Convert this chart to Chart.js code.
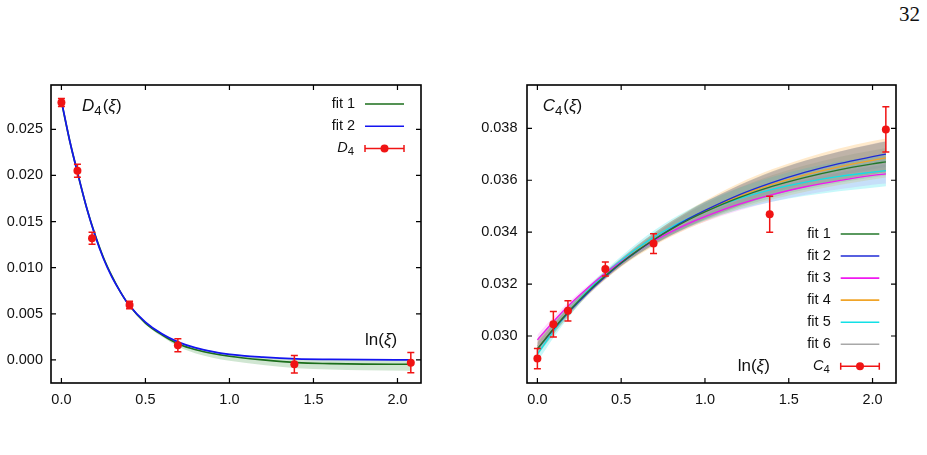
<!DOCTYPE html>
<html>
<head>
<meta charset="utf-8">
<script src="https://cdn.jsdelivr.net/npm/chart.js@4.4.1/dist/chart.umd.min.js"></script>
<style>
  body { margin: 0; background: #fff; width: 927px; height: 455px; overflow: hidden; position: relative; }
  canvas { position: absolute; top: 0; }
  #c1 { left: 0; }
  #c2 { left: 460px; }
  #page { position: absolute; left: 899px; top: 2px; font: 21px "Liberation Serif", serif; color: #111; }
</style>
</head>
<body>
<div id="page">32</div>
<canvas id="c1" width="460" height="420"></canvas>
<canvas id="c2" width="467" height="420"></canvas>
<script>
// measured points, x = ln(xi)
const lnXi = [0, 0.0953, 0.1823, 0.4055, 0.6931, 1.3863, 2.0794];
const d4Vals = [0.0279, 0.0205, 0.0132, 0.00595, 0.0016, -0.00047, -0.0003];
const d4Err = [0.00043, 0.0007, 0.00065, 0.0004, 0.0007, 0.00095, 0.0011];
const c4Vals = [0.02913, 0.03045, 0.03097, 0.03258, 0.03356, 0.03469, 0.03796];
const c4Err = [0.00039, 0.00049, 0.00039, 0.00027, 0.00038, 0.00069, 0.00087];

// fit curves, left panel (D4)
const fitXL = [0, 0.05, 0.1, 0.15, 0.2, 0.25, 0.3, 0.35, 0.4, 0.5, 0.6, 0.7, 0.8, 0.9, 1.0, 1.2, 1.4, 1.6, 1.8, 2.08];
const d4Fit1 = [0.0280, 0.0237, 0.0200, 0.0165, 0.0136, 0.0111, 0.0091, 0.0074, 0.0060, 0.0040, 0.0027, 0.0017, 0.0011, 0.0007, 0.0004, 0.0000, -0.0003, -0.0004, -0.00045, -0.00047];
const d4Fit1Up = [0.0001, 0.0001, 0.0001, 0.0001, 0.0001, 0.0001, 0.0001, 0.0001, 0.0001, 0.00015, 0.0002, 0.00022, 0.00025, 0.00028, 0.0003, 0.00035, 0.0004, 0.00042, 0.00044, 0.00045];
const d4Fit1Dn = [0.0001, 0.0001, 0.0001, 0.0001, 0.0001, 0.0001, 0.0001, 0.0001, 0.0001, 0.00015, 0.0002, 0.0003, 0.0004, 0.00045, 0.0005, 0.00055, 0.0006, 0.00065, 0.00068, 0.0007];
const d4Fit2 = [0.0281, 0.0237, 0.0200, 0.0165, 0.0135, 0.0110, 0.0090, 0.0074, 0.0060, 0.0041, 0.0028, 0.0019, 0.0013, 0.0009, 0.0006, 0.0003, 0.00012, 0.00006, 0.00003, 0.00001];

// fit curves, right panel (C4)
const fitXR = [0, 0.1, 0.2, 0.3, 0.4, 0.5, 0.6, 0.7, 0.8, 0.9, 1.0, 1.2, 1.4, 1.6, 1.8, 2.0, 2.08];
const c4Fit1 = [0.02950, 0.03031, 0.03104, 0.03170, 0.03229, 0.03282, 0.03330, 0.03373, 0.03412, 0.03447, 0.03478, 0.03532, 0.03576, 0.03611, 0.03640, 0.03663, 0.03671];
const c4Fit2 = [0.02950, 0.03029, 0.03101, 0.03166, 0.03225, 0.03280, 0.03329, 0.03373, 0.03414, 0.03451, 0.03484, 0.03543, 0.03591, 0.03631, 0.03664, 0.03691, 0.03701];
const c4Fit3 = [0.02985, 0.03059, 0.03126, 0.03185, 0.03239, 0.03286, 0.03329, 0.03368, 0.03402, 0.03433, 0.03460, 0.03507, 0.03545, 0.03575, 0.03599, 0.03619, 0.03625];
const c4Fit4 = [0.02952, 0.03030, 0.03102, 0.03168, 0.03227, 0.03281, 0.03330, 0.03374, 0.03413, 0.03449, 0.03481, 0.03538, 0.03584, 0.03621, 0.03652, 0.03677, 0.03686];
const c4Fit5 = [0.02930, 0.03022, 0.03103, 0.03175, 0.03237, 0.03292, 0.03340, 0.03383, 0.03420, 0.03452, 0.03481, 0.03528, 0.03565, 0.03593, 0.03615, 0.03631, 0.03637];
const c4Fit6 = [0.02960, 0.03036, 0.03106, 0.03170, 0.03228, 0.03280, 0.03327, 0.03369, 0.03407, 0.03441, 0.03472, 0.03525, 0.03569, 0.03604, 0.03632, 0.03656, 0.03664];
// half widths of the error bands (upper side / lower side)
const c4Band1 = [0.00025, 0.0002, 0.00015, 0.00012, 0.0001, 0.00012, 0.00016, 0.0002, 0.00024, 0.00028, 0.00032, 0.00038, 0.00043, 0.00047, 0.0005, 0.00052, 0.00053];
const c4Band2 = [0.00022, 0.00018, 0.00014, 0.00011, 0.0001, 0.00011, 0.00014, 0.00018, 0.00022, 0.00026, 0.0003, 0.00035, 0.0004, 0.00044, 0.00047, 0.0005, 0.0005];
const c4Band3 = [0.0002, 0.00017, 0.00013, 0.0001, 0.0001, 0.0001, 0.00012, 0.00014, 0.00016, 0.00018, 0.0002, 0.00024, 0.00028, 0.00031, 0.00034, 0.00036, 0.00037];
const c4Band4 = [0.00025, 0.0002, 0.00015, 0.00012, 0.00012, 0.00015, 0.0002, 0.00025, 0.0003, 0.00035, 0.0004, 0.0005, 0.00058, 0.00065, 0.0007, 0.00074, 0.00075];
const c4Band5 = [0.0003, 0.00025, 0.0002, 0.00015, 0.00013, 0.00015, 0.0002, 0.00025, 0.0003, 0.00033, 0.00036, 0.00042, 0.00048, 0.00053, 0.00057, 0.0006, 0.0006];
const c4Band6 = [0.0003, 0.00025, 0.0002, 0.00018, 0.00018, 0.0002, 0.00025, 0.0003, 0.00035, 0.0004, 0.00045, 0.00055, 0.00065, 0.00072, 0.00078, 0.00083, 0.00085];
const c4Band6Lo = [0.0002, 0.00015, 0.00012, 0.0001, 0.0001, 0.0001, 0.00012, 0.00015, 0.00018, 0.0002, 0.00022, 0.00025, 0.00028, 0.0003, 0.00032, 0.00033, 0.00034];

// tick labels
const xTicks = [0, 0.5, 1.0, 1.5, 2.0];
const d4Ticks = [0, 0.005, 0.010, 0.015, 0.020, 0.025];
const c4Ticks = [0.030, 0.032, 0.034, 0.036, 0.038];

const fitNames = ['fit 1', 'fit 2', 'fit 3', 'fit 4', 'fit 5', 'fit 6'];
const fitColors = ['#23772a', '#1f2bd6', '#f018f0', '#f0a428', '#12e0e6', '#a8a8a8'];
const bandColors = ['rgba(40,140,50,0.20)', 'rgba(60,60,230,0.14)', 'rgba(240,40,240,0.15)',
                    'rgba(255,195,110,0.35)', 'rgba(0,225,230,0.22)', 'rgba(135,132,128,0.45)'];
const RED = '#f01414';
const FONT = '"Liberation Sans", Arial, sans-serif';

function pts(xs, ys) { return xs.map((x, i) => ({ x: x, y: ys[i] })); }

function fitLine(xs, ys, color, w) {
  return { data: pts(xs, ys), borderColor: color, borderWidth: w, pointRadius: 0,
           fill: false, cubicInterpolationMode: 'monotone', order: 1 };
}

function bandPair(xs, lo, hi, color, idx, order) {
  return [
    { data: pts(xs, hi), borderWidth: 0, pointRadius: 0, backgroundColor: color,
      fill: { target: idx + 1 }, cubicInterpolationMode: 'monotone', order: order },
    { data: pts(xs, lo), borderWidth: 0, pointRadius: 0, fill: false,
      cubicInterpolationMode: 'monotone', order: order }
  ];
}

function drawRich(ctx, x, y, parts, size, align) {
  const fontFor = p => (p.i ? 'italic ' : '') + (p.s ? size * 0.78 : size) + 'px ' + FONT;
  let w = 0;
  parts.forEach(p => { ctx.font = fontFor(p); w += ctx.measureText(p.t).width + (p.s ? 1 : 0); });
  let cx = align === 'right' ? x - w : x;
  parts.forEach(p => {
    ctx.font = fontFor(p);
    ctx.fillText(p.t, cx, p.s ? y + size * 0.26 : y);
    cx += ctx.measureText(p.t).width + (p.s ? 1 : 0);
  });
}

function errBar(ctx, x0, x1, y, cap) {
  ctx.moveTo(x0, y); ctx.lineTo(x1, y);
  ctx.moveTo(x0, y - cap); ctx.lineTo(x0, y + cap);
  ctx.moveTo(x1, y - cap); ctx.lineTo(x1, y + cap);
}

// frame with inward ticks on all four sides
const framePlugin = {
  id: 'frame',
  afterDatasetsDraw(chart) {
    const { ctx, chartArea: a } = chart;
    const x = chart.scales.x, y = chart.scales.y;
    ctx.save();
    ctx.strokeStyle = '#000';
    ctx.lineWidth = 1.2;
    ctx.beginPath();
    x.ticks.forEach(t => {
      const px = x.getPixelForValue(t.value);
      ctx.moveTo(px, a.bottom); ctx.lineTo(px, a.bottom - 5);
      ctx.moveTo(px, a.top); ctx.lineTo(px, a.top + 5);
    });
    y.ticks.forEach(t => {
      const py = y.getPixelForValue(t.value);
      ctx.moveTo(a.left, py); ctx.lineTo(a.left + 5, py);
      ctx.moveTo(a.right, py); ctx.lineTo(a.right - 5, py);
    });
    ctx.stroke();
    ctx.lineWidth = 1.6;
    ctx.strokeRect(a.left, a.top, a.right - a.left, a.bottom - a.top);
    ctx.restore();
  }
};

// vertical error bars on the measured points
const errorBarPlugin = {
  id: 'errbars',
  afterDatasetsDraw(chart, args, opts) {
    const { ctx } = chart;
    const x = chart.scales.x, y = chart.scales.y;
    ctx.save();
    ctx.strokeStyle = RED;
    ctx.lineWidth = 1.5;
    ctx.beginPath();
    opts.xs.forEach((v, i) => {
      const px = x.getPixelForValue(v);
      const top = y.getPixelForValue(opts.ys[i] + opts.errs[i]);
      const bot = y.getPixelForValue(opts.ys[i] - opts.errs[i]);
      ctx.moveTo(px, top); ctx.lineTo(px, bot);
      ctx.moveTo(px - 3.5, top); ctx.lineTo(px + 3.5, top);
      ctx.moveTo(px - 3.5, bot); ctx.lineTo(px + 3.5, bot);
    });
    ctx.stroke();
    ctx.restore();
  }
};

// legend and labels placed inside the plot frame
const insidePlugin = {
  id: 'inside',
  afterDraw(chart, args, opts) {
    const { ctx } = chart;
    ctx.save();
    ctx.fillStyle = '#111';
    ctx.textBaseline = 'alphabetic';
    opts.labels.forEach(l => drawRich(ctx, l.x, l.y, l.parts, 17, 'left'));
    const lg = opts.legend;
    lg.entries.forEach((e, i) => {
      const yy = lg.y0 + i * lg.dy;
      ctx.fillStyle = '#111';
      ctx.textBaseline = 'middle';
      drawRich(ctx, lg.textX, yy, e.parts, 14.5, 'right');
      if (e.kind === 'line') {
        ctx.strokeStyle = e.color;
        ctx.lineWidth = 1.6;
        ctx.beginPath(); ctx.moveTo(lg.lx0, yy); ctx.lineTo(lg.lx1, yy); ctx.stroke();
      } else {
        ctx.strokeStyle = RED;
        ctx.lineWidth = 1.5;
        ctx.beginPath(); errBar(ctx, lg.lx0, lg.lx1, yy, 3.5); ctx.stroke();
        ctx.fillStyle = RED;
        ctx.beginPath(); ctx.arc((lg.lx0 + lg.lx1) / 2, yy, 4, 0, Math.PI * 2); ctx.fill();
      }
    });
    ctx.restore();
  }
};

const XI = [{ t: '(' }, { t: 'ξ', i: 1 }, { t: ')' }];

function makeScales(yMin, yMax, yTicks, yWidth, yPad) {
  return {
    x: {
      type: 'linear', min: -0.062, max: 2.14,
      afterBuildTicks: s => { s.ticks = xTicks.map(v => ({ value: v })); },
      afterFit: s => { s.height = 37; },
      grid: { display: false, drawTicks: false }, border: { display: false },
      ticks: { font: { family: FONT, size: 14.5 }, color: '#111', padding: 8, callback: v => v.toFixed(1) }
    },
    y: {
      type: 'linear', min: yMin, max: yMax,
      afterBuildTicks: s => { s.ticks = yTicks.map(v => ({ value: v })); },
      afterFit: s => { s.width = yWidth; },
      grid: { display: false, drawTicks: false }, border: { display: false },
      ticks: { font: { family: FONT, size: 14.5 }, color: '#111', padding: yPad, callback: v => v.toFixed(3) }
    }
  };
}

// ---- left panel: D4 ----
const leftSets = [
  { data: pts(lnXi, d4Vals), showLine: false, pointRadius: 4, pointBackgroundColor: RED,
    pointBorderWidth: 0, order: 0 },
  fitLine(fitXL, d4Fit2, '#1414f0', 1.7),
  fitLine(fitXL, d4Fit1, '#1b6e1b', 1.7)
];
leftSets.push(...bandPair(fitXL,
  d4Fit1.map((v, i) => v - d4Fit1Dn[i]), d4Fit1.map((v, i) => v + d4Fit1Up[i]),
  'rgba(40,140,50,0.22)', leftSets.length, 5));

new Chart(document.getElementById('c1'), {
  type: 'line',
  data: { datasets: leftSets },
  options: {
    responsive: false, animation: false, devicePixelRatio: 1,
    layout: { padding: { top: 85, right: 39, left: 0, bottom: 0 } },
    scales: makeScales(-0.0025, 0.0298, d4Ticks, 51, 8),
    plugins: {
      legend: { display: false }, tooltip: { enabled: false },
      errbars: { xs: lnXi, ys: d4Vals, errs: d4Err },
      inside: {
        labels: [
          { x: 82, y: 111, parts: [{ t: 'D', i: 1 }, { t: '4', s: 1 }].concat(XI) },
          { x: 365, y: 345, parts: [{ t: 'ln' }].concat(XI) }
        ],
        legend: {
          textX: 355, y0: 104, dy: 22.2, lx0: 365, lx1: 404,
          entries: [
            { parts: [{ t: 'fit 1' }], kind: 'line', color: '#1b6e1b' },
            { parts: [{ t: 'fit 2' }], kind: 'line', color: '#1414f0' },
            { parts: [{ t: 'D', i: 1 }, { t: '4', s: 1 }], kind: 'err' }
          ]
        }
      }
    }
  },
  plugins: [errorBarPlugin, framePlugin, insidePlugin]
});

// ---- right panel: C4 ----
const c4Fits = [c4Fit1, c4Fit2, c4Fit3, c4Fit4, c4Fit5, c4Fit6];
const c4BandsUp = [c4Band1, c4Band2, c4Band3, c4Band4, c4Band5, c4Band6];
const c4BandsLo = [c4Band1, c4Band2, c4Band3, c4Band4, c4Band5, c4Band6Lo];
const rightSets = [
  { data: pts(lnXi, c4Vals), showLine: false, pointRadius: 4, pointBackgroundColor: RED,
    pointBorderWidth: 0, order: 0 }
];
c4Fits.forEach((f, k) => rightSets.push(fitLine(fitXR, f, fitColors[k], 1.3)));
c4Fits.forEach((f, k) => {
  rightSets.push(...bandPair(fitXR,
    f.map((v, i) => v - c4BandsLo[k][i]), f.map((v, i) => v + c4BandsUp[k][i]),
    bandColors[k], rightSets.length, 20 - k));
});

new Chart(document.getElementById('c2'), {
  type: 'line',
  data: { datasets: rightSets },
  options: {
    responsive: false, animation: false, devicePixelRatio: 1,
    layout: { padding: { top: 85, right: 31, left: 0, bottom: 0 } },
    scales: makeScales(0.02819, 0.03967, c4Ticks, 67, 9.5),
    plugins: {
      legend: { display: false }, tooltip: { enabled: false },
      errbars: { xs: lnXi, ys: c4Vals, errs: c4Err },
      inside: {
        labels: [
          { x: 82.7, y: 111, parts: [{ t: 'C', i: 1 }, { t: '4', s: 1 }].concat(XI) },
          { x: 277.7, y: 370.5, parts: [{ t: 'ln' }].concat(XI) }
        ],
        legend: {
          textX: 370.7, y0: 234, dy: 22.05, lx0: 380.7, lx1: 419.3,
          entries: fitNames.map((n, k) => ({ parts: [{ t: n }], kind: 'line', color: fitColors[k] }))
            .concat([{ parts: [{ t: 'C', i: 1 }, { t: '4', s: 1 }], kind: 'err' }])
        }
      }
    }
  },
  plugins: [errorBarPlugin, framePlugin, insidePlugin]
});
</script>
</body>
</html>
